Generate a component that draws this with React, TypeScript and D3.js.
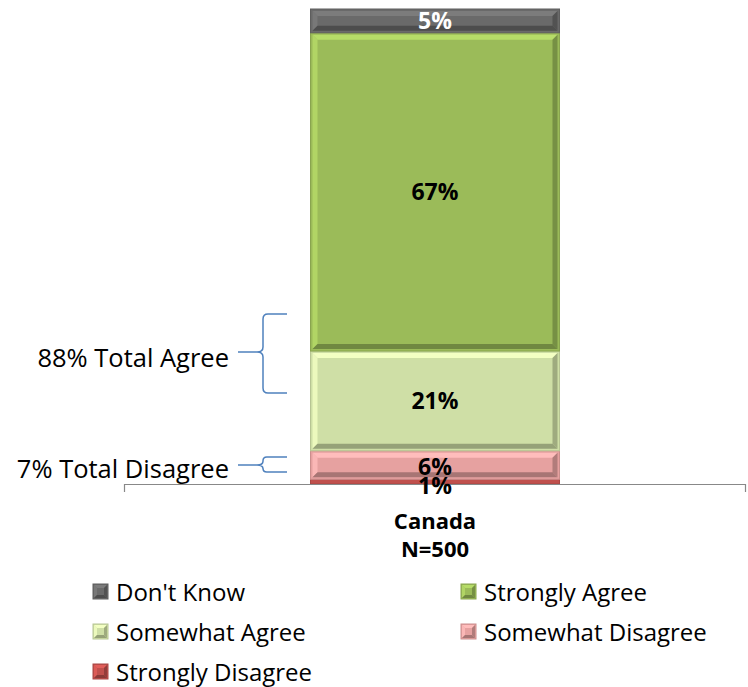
import React from "react";
import * as d3 from "d3";

const categories = ["Canada"];
const categorySub = ["N=500"];
const seriesNames = ["Strongly Disagree", "Somewhat Disagree", "Somewhat Agree", "Strongly Agree", "Don't Know"];
const seriesValues = [[1], [6], [21], [67], [5]];
const seriesColors = ["#c0504d", "#e6a1a0", "#cfdfa6", "#9bbb59", "#6a6a6a"];
const labelColors = ["#000", "#000", "#000", "#000", "#fff"];
const legendOrder = ["Don't Know", "Strongly Agree", "Somewhat Agree", "Somewhat Disagree", "Strongly Disagree"];
const groupLabels = ["88% Total Agree", "7% Total Disagree"];

const FONT = "'Open Sans', Carlito, Calibri, sans-serif";

function Bevel({ x, y, w, h, color, bevel = 5 }: { x: number; y: number; w: number; h: number; color: string; bevel?: number }) {
  const b = Math.min(bevel, h / 2 - 0.5, w / 2);
  const light = d3.color(color)!.brighter(0.45).formatHex();
  const dark = d3.color(color)!.darker(0.9).formatHex();
  const mid = d3.color(color)!.darker(0.35).formatHex();
  const inset = bevel >= 5 ? 2 : 1;
  const x1 = x + inset, y1 = y + inset, x2 = x + w - inset, y2 = y + h - inset;
  if (h < 8) {
    return <rect x={x} y={y} width={w} height={h} fill={color} stroke={mid} strokeWidth={1} />;
  }
  return (
    <g>
      <rect x={x} y={y} width={w} height={h} fill={color} stroke={mid} strokeWidth={1} />
      <polygon points={`${x1},${y1} ${x2},${y1} ${x2 - b},${y1 + b} ${x1 + b},${y1 + b}`} fill={light} />
      <polygon points={`${x1},${y1} ${x1 + b},${y1 + b} ${x1 + b},${y2 - b} ${x1},${y2}`} fill={light} opacity={0.8} />
      <polygon points={`${x1},${y2} ${x1 + b},${y2 - b} ${x2 - b},${y2 - b} ${x2},${y2}`} fill={dark} />
      <polygon points={`${x2},${y1} ${x2},${y2} ${x2 - b},${y2 - b} ${x2 - b},${y1 + b}`} fill={dark} opacity={0.85} />
    </g>
  );
}

export default function App() {
  const W = 748, H = 687;
  const axisY = 484;
  const x = d3.scaleBand().domain(categories).range([124, 746]).paddingInner(0).paddingOuter(0.3);
  const y = d3.scaleLinear().domain([0, 100]).range([axisY, 9]);

  const stacked = d3.stack<any>().keys(seriesNames.map((_, i) => String(i)))(
    categories.map((c, ci) => {
      const o: any = { cat: c };
      seriesValues.forEach((v, i) => (o[String(i)] = v[ci]));
      return o;
    })
  );

  const bw = 249;
  const segs: any[] = [];
  stacked.forEach((layer, si) => {
    layer.forEach((d, ci) => {
      const cx = x(categories[ci])! + x.bandwidth() / 2;
      segs.push({ si, ci, x0: cx - bw / 2, y0: y(d[1]), y1: y(d[0]), v: seriesValues[si][ci], cx });
    });
  });

  const legendPos = [
    [93, 592], [461, 592], [93, 632], [461, 632], [93, 672],
  ];

  // brace annotations (hand-placed in the original)
  const braces = [
    { top: 314, bot: 393, mid: 352, textY: 358 },
    { top: 457, bot: 472, mid: 465, textY: 469 },
  ];

  return (
    <svg width={W} height={H} style={{ position: "absolute", left: 0, top: 0 }} fontFamily={FONT}>
      <rect width={W} height={H} fill="#fff" />
      {segs.map((s) => (
        <Bevel key={s.si + "-" + s.ci} x={s.x0} y={s.y0} w={bw} h={s.y1 - s.y0} color={seriesColors[s.si]} />
      ))}
      <path d={`M124.5,492 V${axisY + 0.5} H745.5 V492`} fill="none" stroke="#888" strokeWidth={1.2} />
      {segs.map((s) => {
        const cy = (s.y0 + s.y1) / 2;
        const offset = s.si === 0 ? 4 : s.si === 1 ? 2 : 0;
        return (
          <text key={"l" + s.si} x={s.cx} y={cy + offset} dy="0.36em" textAnchor="middle" fontWeight="bold" fontSize={23} fill={labelColors[s.si]}>
            {s.v}%
          </text>
        );
      })}
      {categories.map((c, i) => {
        const cx = x(c)! + x.bandwidth() / 2;
        return (
          <g key={c}>
            <text x={cx} y={529} textAnchor="middle" fontWeight="bold" fontSize={22}>{c}</text>
            <text x={cx} y={557} textAnchor="middle" fontWeight="bold" fontSize={22}>{categorySub[i]}</text>
          </g>
        );
      })}
      {braces.map((br, gi) => {
        const { top, bot, mid } = br;
        const xr = 287, xv = 263, xt = 257, xl = 238;
        const r = Math.min(5, (bot - top) / 4);
        const d = `M${xr},${top} H${xv + r} Q${xv},${top} ${xv},${top + r} V${mid - r} Q${xv},${mid} ${xt},${mid} Q${xv},${mid} ${xv},${mid + r} V${bot - r} Q${xv},${bot} ${xv + r},${bot} H${xr} M${xt},${mid} H${xl}`;
        return (
          <g key={groupLabels[gi]}>
            <path d={d} fill="none" stroke="#4f81bd" strokeWidth={1.5} />
            <text x={229} y={br.textY} dy="0.36em" textAnchor="end" fontSize={25.5}>{groupLabels[gi]}</text>
          </g>
        );
      })}
      {legendOrder.map((name, i) => {
        const si = seriesNames.indexOf(name);
        const [lx, ly] = legendPos[i];
        return (
          <g key={name}>
            <Bevel x={lx} y={ly - 8} w={15} h={15} color={seriesColors[si]} bevel={3} />
            <text x={lx + 23} y={ly} dy="0.36em" fontSize={24}>{name}</text>
          </g>
        );
      })}
    </svg>
  );
}
